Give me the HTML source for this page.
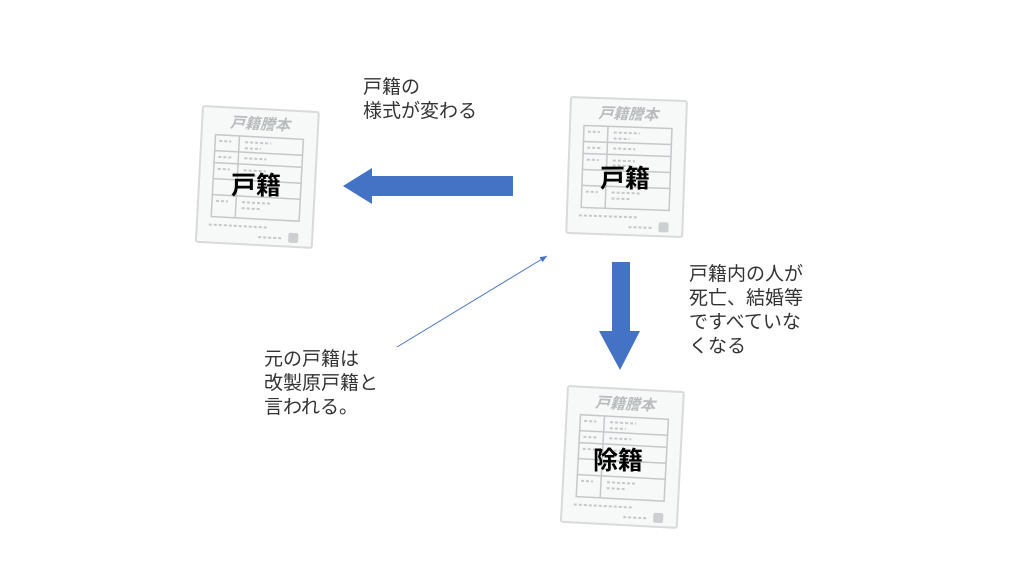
<!DOCTYPE html>
<html><head><meta charset="utf-8"><style>
body{margin:0;width:1024px;height:576px;background:#fff;position:relative;overflow:hidden;font-family:"Liberation Sans","Noto Sans CJK JP",sans-serif}
.t{position:absolute;font-size:19px;line-height:24px;color:#333}
</style></head><body>
<svg width="1024" height="576" style="position:absolute;left:0;top:0">
<defs>
<g id="doc">
<rect x="0" y="0" width="116" height="136" fill="#f7f8f8" stroke="#d8dadb" stroke-width="2" rx="2"/>
<text x="58" y="20" text-anchor="middle" font-size="15" font-weight="bold" fill="#b8bcbe" font-family="Noto Sans CJK JP,sans-serif" font-style="italic">戸籍謄本</text>
<g fill="none" stroke="#c4c8ca" stroke-width="1.5">
<rect x="14" y="28" width="88" height="82"/>
<line x1="14" y1="44" x2="102" y2="44"/><line x1="14" y1="56" x2="102" y2="56"/>
<line x1="14" y1="72" x2="102" y2="72"/><line x1="14" y1="88" x2="102" y2="88"/>
<line x1="38" y1="28" x2="38" y2="110"/>
</g>
<g stroke="#c4c8ca" stroke-width="2" stroke-dasharray="3 2">
<line x1="18" y1="34" x2="30" y2="34"/><line x1="44" y1="34" x2="70" y2="34"/>
<line x1="44" y1="40" x2="60" y2="40"/><line x1="18" y1="50" x2="32" y2="50"/>
<line x1="44" y1="50" x2="66" y2="50"/><line x1="18" y1="62" x2="30" y2="62"/>
<line x1="44" y1="62" x2="66" y2="62"/><line x1="44" y1="67" x2="62" y2="67"/>
<line x1="18" y1="94" x2="30" y2="94"/><line x1="44" y1="94" x2="72" y2="94"/>
<line x1="44" y1="100" x2="64" y2="100"/><line x1="12" y1="118" x2="70" y2="118"/>
<line x1="62" y1="128" x2="86" y2="128"/>
</g>
<rect x="92" y="122" width="10" height="10" rx="2" fill="#ccd0d2"/>
</g>
<marker id="ah" markerWidth="8" markerHeight="8" refX="7" refY="4" orient="auto"><path d="M0,1 L7,4 L0,7 z" fill="#4472c4"/></marker>
</defs>
<use href="#doc" transform="translate(203,106) rotate(3)"/>
<use href="#doc" transform="translate(571,97) rotate(2)"/>
<use href="#doc" transform="translate(568,386) rotate(3)"/>
<path d="M343,186 L372,168 L372,176 L513,176 L513,196 L372,196 L372,204 Z" fill="#4472c4"/>
<path d="M612,262 L630,262 L630,331 L640,331 L620,370 L599,331 L612,331 Z" fill="#4472c4"/>
<line x1="397" y1="347" x2="547" y2="256" stroke="#4472c4" stroke-width="1" marker-end="url(#ah)"/>
<g font-family="Liberation Sans,Noto Sans CJK JP,sans-serif" font-size="25" font-weight="bold" fill="#000">
<text x="256" y="194" text-anchor="middle">戸籍</text>
<text x="625" y="187" text-anchor="middle">戸籍</text>
<text x="618" y="469" text-anchor="middle">除籍</text>
</g>
</svg>
<div class="t" style="left:363px;top:76px">戸籍の<br>様式が変わる</div>
<div class="t" style="left:689px;top:263px">戸籍内の人が<br>死亡、結婚等<br>ですべていな<br>くなる</div>
<div class="t" style="left:264px;top:348px">元の戸籍は<br>改製原戸籍と<br>言われる。</div>
</body></html>
